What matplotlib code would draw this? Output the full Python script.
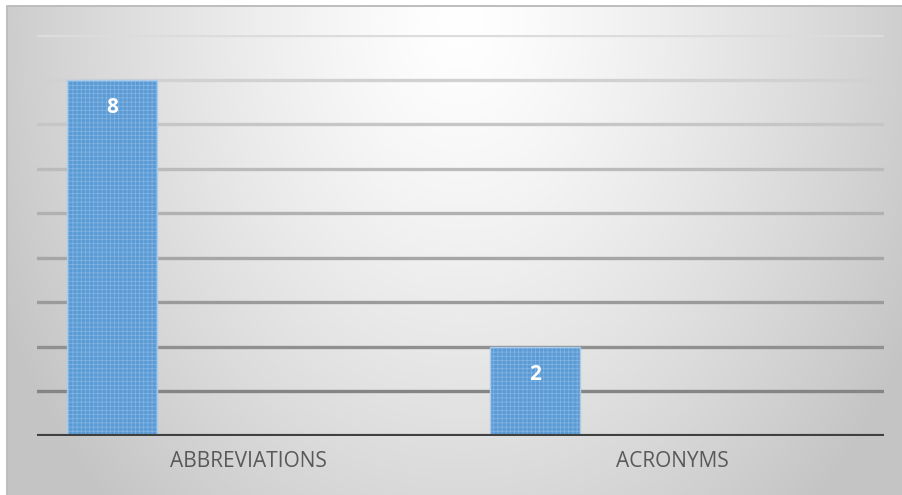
import numpy as np
import matplotlib
matplotlib.use("Agg")
import matplotlib.pyplot as plt
from matplotlib.colors import to_rgb

categories = ["ABBREVIATIONS", "ACRONYMS"]
counts = [8, 2]
y_ticks = list(range(0, 10))

W, H = 903, 495
fig = plt.figure(figsize=(W / 100, H / 100), dpi=100)
fig.patch.set_facecolor("white")

# radial gradient chart background
bg = fig.add_axes([7 / W, 0, (W - 7) / W, (H - 6) / H])
bw, bh = W - 7, H - 6
yy, xx = np.mgrid[0:bh, 0:bw]
r = np.sqrt(((xx + 7 - 460) / 460.0) ** 2 + ((yy + 6 - 20) / 600.0) ** 2)
val = np.clip(1.0 - 0.2 * r ** 1.3, 0.77, 1.0)
bg.imshow(np.dstack([val, val, val]), aspect="auto", interpolation="bilinear",
          extent=[0, bw, bh, 0])
bg.set_axis_off()
bg.plot([0, 0, bw], [bh, 0, 0], color="#bdbdbd", lw=1.4, clip_on=False)
bg.set_xlim(0, bw)
bg.set_ylim(bh, 0)

ax = fig.add_axes([37 / W, (H - 436) / H, 847 / W, 401 / H])
ax.set_facecolor("none")
ax.set_xlim(-0.5, 1.5)
ax.set_ylim(0, 9)

# gridlines fading from light at the top to darker near the axis
top_c, bot_c = np.array(to_rgb("#dcdcdc")), np.array(to_rgb("#858585"))
for v in y_ticks[1:]:
    t = (9 - v) / 8.0
    ax.axhline(v, color=top_c * (1 - t) + bot_c * t, lw=2.4, zorder=1)
ax.axhline(0, color="#404040", lw=3, zorder=4)

x = np.arange(len(categories))
offset, width = -0.323, 0.2125
bx = x + offset
ax.bar(bx, counts, width=width, color="#5b9bd5", edgecolor="none", zorder=2)
plt.rcParams["hatch.linewidth"] = 0.5
ax.bar(bx, counts, width=width, facecolor="none", edgecolor="#86b5e2",
       hatch="++++", linewidth=0, zorder=2.5)
ax.bar(bx, counts, width=width, facecolor="none", edgecolor="#a9cbec",
       linewidth=1.0, zorder=2.6)

for xi, v in zip(bx, counts):
    ax.annotate(str(v), (xi, v), xytext=(0, -20), textcoords="offset points",
                ha="center", va="center", color="white", fontsize=15,
                fontweight="bold", family=["Open Sans", "DejaVu Sans"], zorder=5)

ax.set_xticks(x)
ax.set_xticklabels(categories, family=["Open Sans", "DejaVu Sans"], fontsize=15,
                   color="#595959")
ax.tick_params(axis="x", length=0, pad=11)
ax.set_yticks([])
for s in ax.spines.values():
    s.set_visible(False)

fig.savefig("out.png", dpi=100)
